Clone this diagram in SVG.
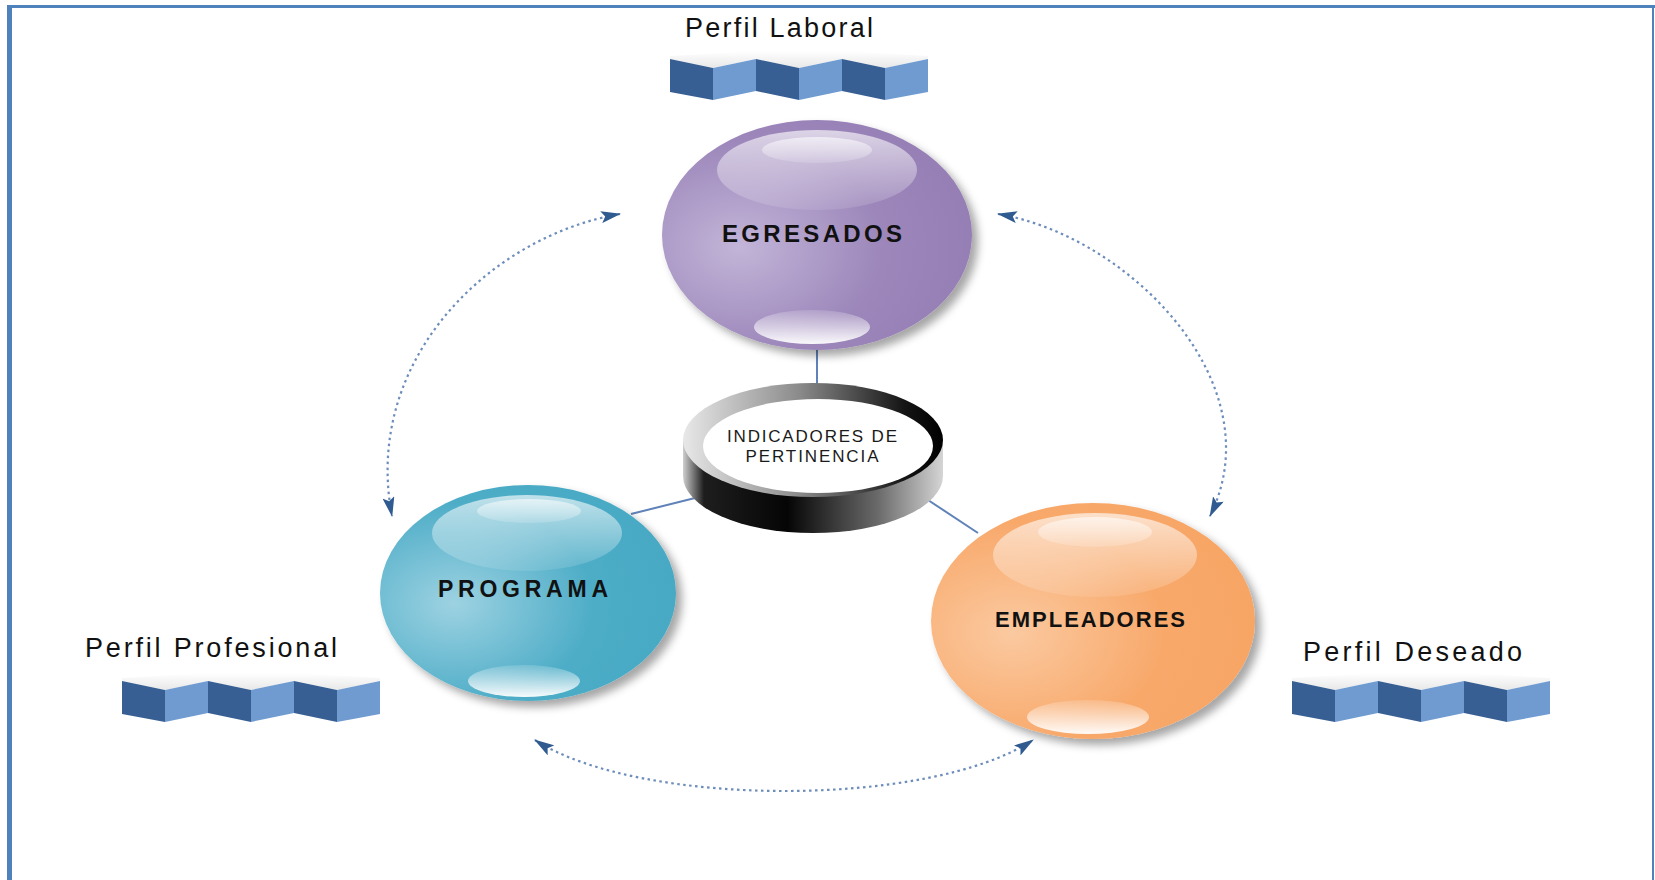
<svg xmlns="http://www.w3.org/2000/svg" xmlns:xlink="http://www.w3.org/1999/xlink" width="1655" height="880" viewBox="0 0 1655 880">
<style>
.lbl{font-family:"Liberation Sans",Arial,sans-serif;font-size:27px;fill:#111;}
.node-t{font-family:"Liberation Sans",Arial,sans-serif;font-weight:bold;fill:#111;text-anchor:middle;}
.ring-t{font-family:"Liberation Sans",Arial,sans-serif;font-size:17px;fill:#1a1a1a;text-anchor:middle;}
.solid{stroke:#5f82b8;stroke-width:2;fill:none;}
.dotted{stroke:#6d8dbb;stroke-width:2.2;fill:none;stroke-dasharray:2.5 3.5;marker-start:url(#ah);marker-end:url(#ah);}
.dark{fill:#375f93;}
.light{fill:#6f9bd1;}
.hl{fill:url(#hlTop);}
.hl2{fill:url(#hlInner);}
.hlb{fill:url(#hlBot);}
</style>
<defs>
<marker id="ah" viewBox="0 0 20 12" refX="19" refY="6" markerWidth="20" markerHeight="12" markerUnits="userSpaceOnUse" orient="auto-start-reverse">
<path d="M0,0 L20,6 L0,12 L4,6 Z" fill="#2f5b90"/>
</marker>
<filter id="shadow" x="-20%" y="-20%" width="150%" height="150%">
<feDropShadow dx="6" dy="6" stdDeviation="4" flood-color="#000" flood-opacity="0.35"/>
</filter>
<radialGradient id="gPurple" cx="0.25" cy="0.55" r="0.85">
<stop offset="0" stop-color="#c2b5d8"/>
<stop offset="0.55" stop-color="#9c86ba"/>
<stop offset="1" stop-color="#937cb2"/>
</radialGradient>
<radialGradient id="gTeal" cx="0.25" cy="0.55" r="0.85">
<stop offset="0" stop-color="#9dd2e2"/>
<stop offset="0.55" stop-color="#4eadc7"/>
<stop offset="1" stop-color="#45a8c3"/>
</radialGradient>
<radialGradient id="gOrange" cx="0.25" cy="0.55" r="0.85">
<stop offset="0" stop-color="#fbc9a0"/>
<stop offset="0.55" stop-color="#f8a96b"/>
<stop offset="1" stop-color="#f6a463"/>
</radialGradient>
<linearGradient id="hlTop" x1="0" y1="0" x2="0" y2="1">
<stop offset="0" stop-color="#fff" stop-opacity="0.65"/>
<stop offset="1" stop-color="#fff" stop-opacity="0.1"/>
</linearGradient>
<linearGradient id="hlInner" x1="0" y1="0" x2="0" y2="1">
<stop offset="0" stop-color="#fff" stop-opacity="0.6"/>
<stop offset="1" stop-color="#fff" stop-opacity="0.15"/>
</linearGradient>
<linearGradient id="hlBot" x1="0" y1="0" x2="0" y2="1">
<stop offset="0" stop-color="#fff" stop-opacity="0.15"/>
<stop offset="1" stop-color="#fff" stop-opacity="0.95"/>
</linearGradient>
<linearGradient id="ringTop" x1="0" y1="0" x2="1" y2="0">
<stop offset="0" stop-color="#e8e8e8"/>
<stop offset="0.45" stop-color="#8a8a8a"/>
<stop offset="0.85" stop-color="#151515"/>
<stop offset="1" stop-color="#000"/>
</linearGradient>
<linearGradient id="ringBand" x1="0" y1="0" x2="1" y2="0">
<stop offset="0" stop-color="#cfcfcf"/>
<stop offset="0.08" stop-color="#1e1e1e"/>
<stop offset="0.4" stop-color="#050505"/>
<stop offset="0.75" stop-color="#6a6a6a"/>
<stop offset="1" stop-color="#d5d5d5"/>
</linearGradient>
<linearGradient id="topFace" x1="0" y1="0" x2="0" y2="1">
<stop offset="0" stop-color="#ffffff"/>
<stop offset="1" stop-color="#e8e8e8"/>
</linearGradient>
<g id="block">
<polygon points="0,0 43,9 86,0 129,9 172,0 215,9 258,0 258,-3 172,-8 86,-8 0,-3" fill="url(#topFace)"/>
<polygon class="dark" points="0,0 43,9 43,41 0,33"/>
<polygon class="light" points="43,9 86,0 86,32 43,41"/>
<polygon class="dark" points="86,0 129,9 129,41 86,32"/>
<polygon class="light" points="129,9 172,0 172,32 129,41"/>
<polygon class="dark" points="172,0 215,9 215,41 172,32"/>
<polygon class="light" points="215,9 258,0 258,33 215,41"/>
</g>
</defs>

<rect x="0" y="0" width="1655" height="880" fill="#fff"/>
<g id="border" fill="#4f81bd">
<rect x="7" y="5" width="1648" height="3"/>
<rect x="7" y="5" width="5" height="875"/>
<rect x="1652" y="5" width="2" height="875"/>
</g>

<g id="connectors">
<line class="solid" x1="817" y1="350" x2="817" y2="386"/>
<line class="solid" x1="631" y1="514" x2="699" y2="497"/>
<line class="solid" x1="925" y1="498" x2="978" y2="533"/>
<path class="dotted" d="M620,214 C490,236 362,360 392,516"/>
<path class="dotted" d="M998,214 C1130,236 1275,385 1210,516"/>
<path class="dotted" d="M535,740 C640,808 930,808 1033,740"/>
</g>

<g id="perfil-laboral">
<text class="lbl" x="685" y="37" textLength="188" lengthAdjust="spacing">Perfil Laboral</text>
<use href="#block" xlink:href="#block" x="670" y="59"/>
</g>
<g id="perfil-profesional">
<text class="lbl" x="85" y="657" textLength="252" lengthAdjust="spacing">Perfil Profesional</text>
<use href="#block" xlink:href="#block" x="122" y="681"/>
</g>
<g id="perfil-deseado">
<text class="lbl" x="1303" y="661" textLength="219" lengthAdjust="spacing">Perfil Deseado</text>
<use href="#block" xlink:href="#block" x="1292" y="681"/>
</g>

<g id="egresados">
<ellipse cx="817" cy="235" rx="155" ry="115" fill="url(#gPurple)" filter="url(#shadow)"/>
<ellipse class="hl" cx="817" cy="170" rx="100" ry="40"/>
<ellipse class="hl2" cx="817" cy="150" rx="55" ry="13"/>
<ellipse class="hlb" cx="812" cy="327" rx="58" ry="17"/>
<text class="node-t" x="812" y="242" font-size="24" textLength="180" lengthAdjust="spacing">EGRESADOS</text>
</g>

<g id="programa">
<ellipse cx="528" cy="593" rx="148" ry="108" fill="url(#gTeal)" filter="url(#shadow)"/>
<ellipse class="hl" cx="527" cy="533" rx="95" ry="38"/>
<ellipse class="hl2" cx="529" cy="511" rx="52" ry="12"/>
<ellipse class="hlb" cx="524" cy="681" rx="56" ry="16"/>
<text class="node-t" x="523" y="597" font-size="23" textLength="170" lengthAdjust="spacing">PROGRAMA</text>
</g>

<g id="empleadores">
<ellipse cx="1093" cy="621" rx="162" ry="118" fill="url(#gOrange)" filter="url(#shadow)"/>
<ellipse class="hl" cx="1095" cy="555" rx="102" ry="42"/>
<ellipse class="hl2" cx="1095" cy="532" rx="57" ry="15"/>
<ellipse class="hlb" cx="1088" cy="717" rx="61" ry="17"/>
<text class="node-t" x="1090" y="627" font-size="22" textLength="190" lengthAdjust="spacing">EMPLEADORES</text>
</g>

<g id="indicadores">
<ellipse cx="813" cy="476" rx="130" ry="57" fill="url(#ringBand)"/>
<rect x="683" y="440" width="260" height="36" fill="url(#ringBand)"/>
<ellipse cx="813" cy="440" rx="130" ry="57" fill="url(#ringTop)"/>
<ellipse cx="818" cy="446" rx="115" ry="47" fill="#fff"/>
<text class="ring-t" x="812" y="442" textLength="170" lengthAdjust="spacing">INDICADORES DE</text>
<text class="ring-t" x="812" y="462" textLength="133" lengthAdjust="spacing">PERTINENCIA</text>
</g>
</svg>
